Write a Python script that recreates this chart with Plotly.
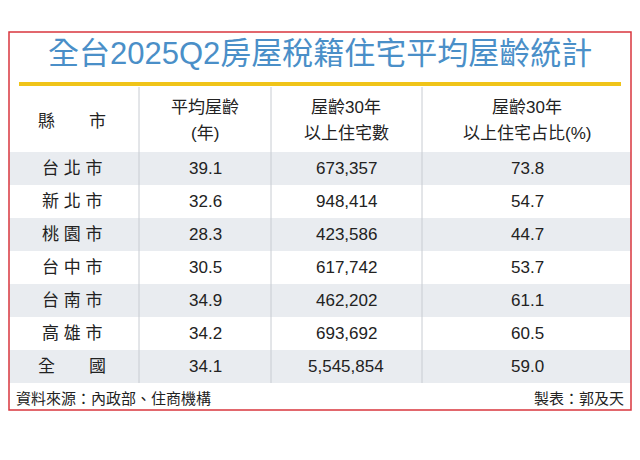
import plotly.graph_objects as go

title = "全台2025Q2房屋稅籍住宅平均屋齡統計"
headers_l1 = ["縣　　市", "平均屋齡", "屋齡30年", "屋齡30年"]
headers_l2 = ["", "(年)", "以上住宅數", "以上住宅占比(%)"]
cities = ["台 北 市", "新 北 市", "桃 園 市", "台 中 市", "台 南 市", "高 雄 市", "全　　國"]
avg_age = [39.1, 32.6, 28.3, 30.5, 34.9, 34.2, 34.1]
count30 = [673357, 948414, 423586, 617742, 462202, 693692, 5545854]
share30 = [73.8, 54.7, 44.7, 53.7, 61.1, 60.5, 59.0]
source = "資料來源：內政部、住商機構"
author = "製表：郭及天"

FONT = "Liberation Sans, Noto Sans CJK TC, sans-serif"
fig = go.Figure()
shapes, ann = [], []
L, R, T, B = 9, 631, 32, 410
row_top, row_h = 152, 33
col_x = [L, 139, 271, 422, R]
centers = [72, 205, 346, 527]

def A(x, y, t, size=17, color="#222", **kw):
    ann.append(dict(x=x, y=y, text=t, showarrow=False, xref="x", yref="y",
                    font=dict(size=size, color=color, family=FONT), **kw))

for i in range(len(cities)):
    y0 = row_top + i * row_h
    if i % 2 == 0:
        shapes.append(dict(type="rect", xref="x", yref="y", x0=L, x1=R, y0=y0, y1=y0 + row_h,
                           fillcolor="#e9ecf0", line_width=0, layer="below"))
shapes.append(dict(type="line", xref="x", yref="y", x0=L + 10, x1=R - 10, y0=84, y1=84,
                   line=dict(color="#f0c419", width=4)))
for cx in col_x[1:4]:
    shapes.append(dict(type="line", xref="x", yref="y", x0=cx, x1=cx, y0=87,
                       y1=row_top + row_h * len(cities), line=dict(color="#c8ccd2", width=1)))
shapes.append(dict(type="rect", xref="x", yref="y", x0=L, x1=R, y0=T, y1=B,
                   line=dict(color="#d9363e", width=1.5)))

A((L + R) / 2, 53, title, size=31, color="#4a8fc8")
for j in range(4):
    if headers_l2[j]:
        A(centers[j], 107, headers_l1[j])
        A(centers[j], 133, headers_l2[j])
    else:
        A(centers[j], 121, headers_l1[j])
for i in range(len(cities)):
    yc = row_top + i * row_h + row_h / 2
    vals = [cities[i], f"{avg_age[i]:.1f}", f"{count30[i]:,}", f"{share30[i]:.1f}"]
    for j, v in enumerate(vals):
        A(centers[j], yc, v)
A(14, 398, source, size=15, xanchor="left")
A(626, 398, author, size=15, xanchor="right")

fig.update_layout(width=624, height=444, margin=dict(l=0, r=0, t=0, b=0),
                  paper_bgcolor="white", plot_bgcolor="white", shapes=shapes, annotations=ann,
                  xaxis=dict(range=[8, 632], visible=False, fixedrange=True),
                  yaxis=dict(range=[452, 8], visible=False, fixedrange=True),
                  showlegend=False)
fig.write_html("out.html", config={"displayModeBar": False})
